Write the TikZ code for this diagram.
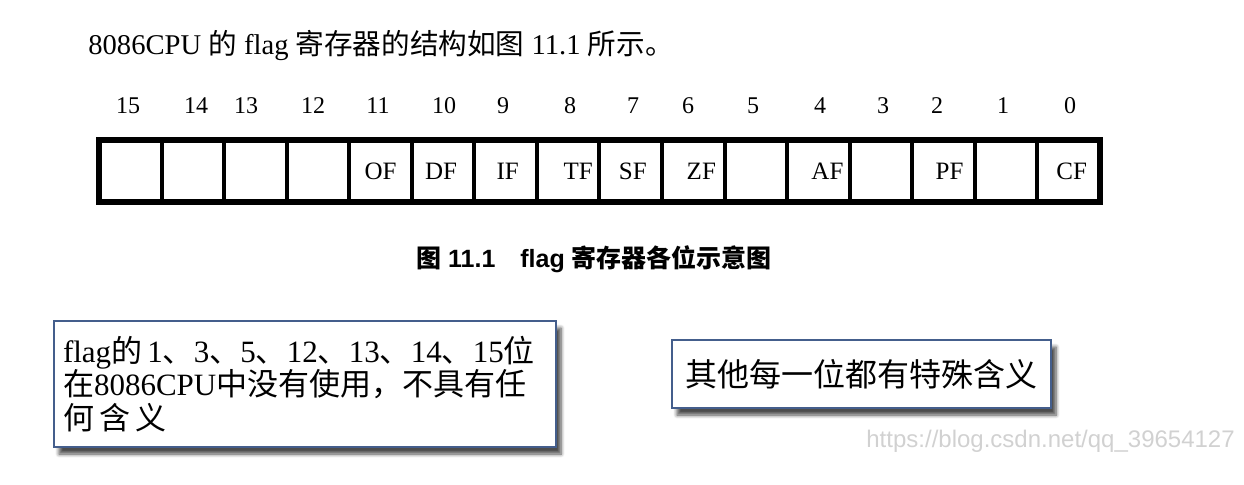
\documentclass[tikz,border=0pt]{standalone}
\usepackage{fontspec}
\setmainfont{Liberation Serif}
\newfontfamily\cjk{Noto Sans CJK SC}
\newfontfamily\capfont{Liberation Sans}
\usetikzlibrary{shadows.blur}
\definecolor{noteedge}{RGB}{68,94,140}
\newcommand{\zh}[1]{{\cjk #1}}

\begin{document}
\begin{tikzpicture}[
    x=0.5pt,
    y=-0.5pt,
    cell/.style={draw=black, line width=2pt, minimum width=31.28pt, minimum height=31pt, inner sep=0pt, outer sep=0pt},
    frame/.style={draw=black, line width=2.6pt},
    flagname/.style={font=\fontsize{12.5}{14}\selectfont, inner sep=0pt},
    bitno/.style={font=\fontsize{12}{14}\selectfont, inner sep=0pt},
    note/.style={draw=noteedge, line width=1pt, fill=white,
      blur shadow={shadow xshift=2.5pt, shadow yshift=-3.5pt, shadow blur steps=6, shadow opacity=70}}
  ]
  \useasboundingbox (0,0) rectangle (1244,484);

  \node[anchor=west, inner sep=0pt, font=\fontsize{14.3}{16}\selectfont] (title) at (88,45)
    {8086CPU \zh{的} flag \zh{寄存器的结构如图} 11.1 \zh{所示。}};

  % register cells, bit 15 on the left
  \foreach \i in {0,...,15}
    \node[cell] (bit\i) at ({99+62.56*(15-\i)+31.28},171) {};
  \draw[frame] (bit15.north west) rectangle (bit0.south east);

  \foreach \i/\lab/\dx in {11/OF/0, 10/DF/-2, 9/IF/2, 8/TF/10, 7/SF/2, 6/ZF/8, 4/AF/9, 2/PF/6, 0/CF/3}
    \node[flagname] (lab\i) at ([xshift=\dx*0.5pt]bit\i.center) {\lab};

  % bit numbers
  \foreach \i/\x in {15/128, 14/196, 13/246, 12/313, 11/378, 10/444, 9/503, 8/570,
                     7/633, 6/688, 5/753, 4/820, 3/883, 2/937, 1/1003, 0/1070}
    \node[bitno] (no\i) at (\x,106) {\i};

  \node[font=\capfont\bfseries\fontsize{12.5}{14}\selectfont, inner sep=0pt] (caption) at (594,259)
    {\zh{图} 11.1\quad flag \zh{寄存器各位示意图}};

  % the two notes
  \node[note, anchor=north west, minimum height=63pt, inner xsep=4.5pt, text width=242pt, align=left,
    font=\fontsize{15.5}{16.8}\selectfont] (unused) at (53,320)
    {flag\zh{的}\,1\zh{、}3\zh{、}5\zh{、}12\zh{、}13\zh{、}14\zh{、}15\zh{位}\\
     \zh{在}8086CPU\zh{中没有使用，不具有任}\\
     \zh{何\,含\,义}};
  \node[note, anchor=north west, minimum width=189.5pt, minimum height=34pt, inner xsep=4.5pt,
    font=\cjk\fontsize{16}{20}\selectfont] (other) at (671,339) {其他每一位都有特殊含义};

  \node[anchor=west, inner sep=0pt, text=black!18, font=\capfont\fontsize{12}{14}\selectfont] (mark) at (866,441)
    {https://blog.csdn.net/qq\_39654127};
\end{tikzpicture}
\end{document}
